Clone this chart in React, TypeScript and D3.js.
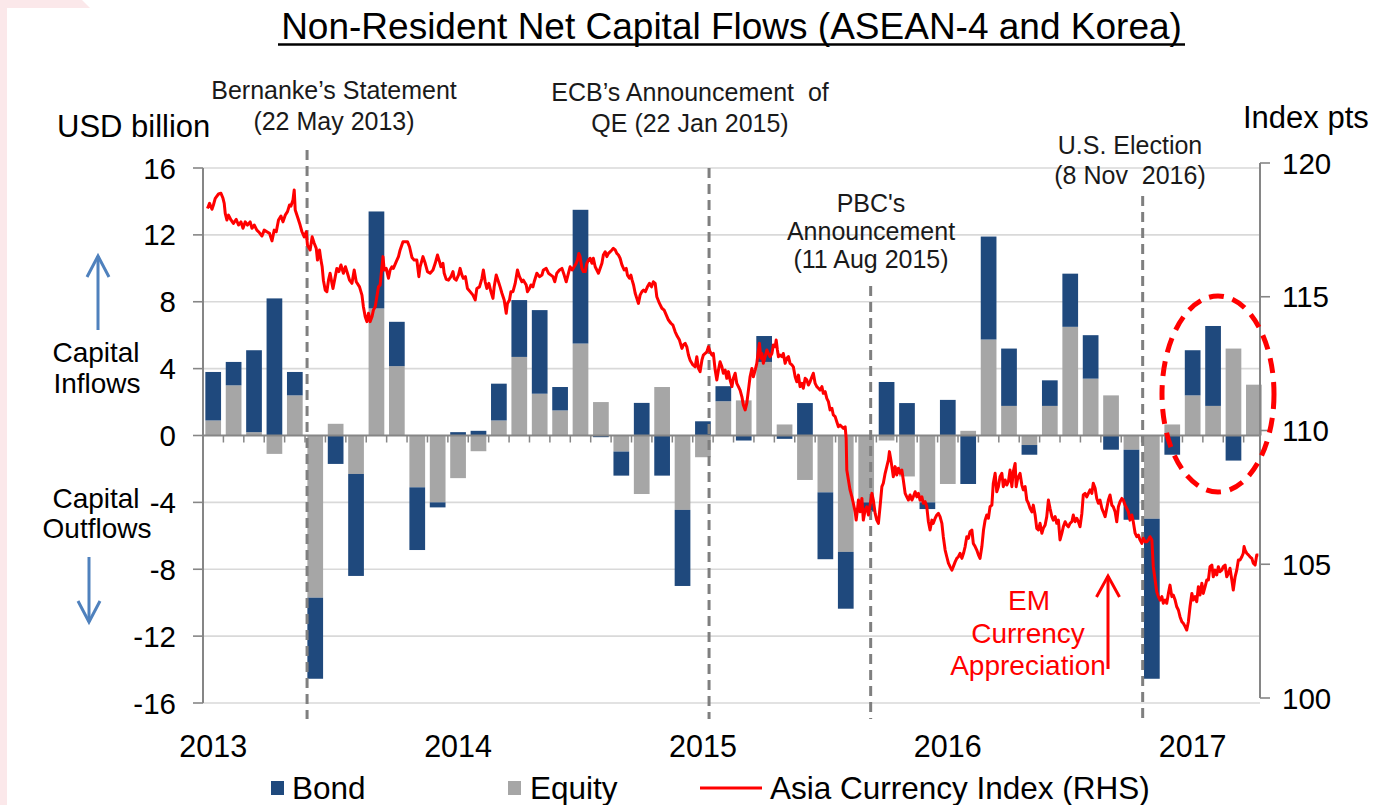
import React from 'react';
import * as d3 from 'd3';

const MONTHS = [
  'Jan-13','Feb-13','Mar-13','Apr-13','May-13','Jun-13','Jul-13','Aug-13','Sep-13','Oct-13','Nov-13','Dec-13',
  'Jan-14','Feb-14','Mar-14','Apr-14','May-14','Jun-14','Jul-14','Aug-14','Sep-14','Oct-14','Nov-14','Dec-14',
  'Jan-15','Feb-15','Mar-15','Apr-15','May-15','Jun-15','Jul-15','Aug-15','Sep-15','Oct-15','Nov-15','Dec-15',
  'Jan-16','Feb-16','Mar-16','Apr-16','May-16','Jun-16','Jul-16','Aug-16','Sep-16','Oct-16','Nov-16','Dec-16',
  'Jan-17','Feb-17','Mar-17','Apr-17'
];

const EQUITY = [0.9, 3.0, 0.2, -1.1, 2.4, -9.7, 0.7, -2.3, 7.6, 4.15, -3.1, -4.0,
  -2.55, -0.94, 0.9, 4.7, 2.5, 1.5, 5.5, 2.0, -0.96, -3.5, 2.9, -4.45,
  -1.3, 2.05, 2.1, 4.4, 0.66, -2.66, -3.4, -6.96, -4.0, -0.3, -2.45, -4.0,
  -2.9, 0.28, 5.74, 1.77, -0.57, 1.77, 6.5, 3.4, 2.4, -0.85, -4.98, 0.66,
  2.4, 1.77, 5.2, 3.04];

const BOND = [2.9, 1.4, 4.9, 8.2, 1.4, -4.85, -1.7, -6.1, 5.8, 2.65, -3.75, -0.3,
  0.2, 0.28, 2.2, 3.4, 5.0, 1.4, 8.0, -0.1, -1.44, 1.95, -2.4, -4.55,
  0.85, 0.9, -0.3, 1.55, -0.2, 1.94, -4.0, -3.4, -0.55, 3.2, 1.94, -0.4,
  2.13, -2.9, 6.16, 3.43, -0.58, 1.53, 3.18, 2.6, -0.85, -4.19, -9.57, -1.15,
  2.7, 4.78, -1.5, 0];

const YEAR_LABELS = ['2013', '2014', '2015', '2016', '2017'];
const YEAR_POS = [0, 12, 24, 36, 48];
const LEFT_TICKS = [16, 12, 8, 4, 0, -4, -8, -12, -16];
const RIGHT_TICKS = [120, 115, 110, 105, 100];

// event positions in months since Jan 2013 (as placed in the chart)
const EVENT_POS = [4.6, 24.3, 32.22, 45.55];
const EVENT_TEXT = [
  ['Bernanke\u2019s Statement', '(22 May 2013)'],
  ['ECB\u2019s Announcement  of', 'QE (22 Jan 2015)'],
  ["PBC's", 'Announcement', '(11 Aug 2015)'],
  ['U.S. Election', '(8 Nov  2016)'],
];

// Asia Currency Index (RHS): [months since Jan 2013, index pts]
const CURRENCY: [number, number][] = [
[-0.28,118.30],[-0.18,118.49],[-0.06,118.27],[0.01,118.43],[0.10,118.68],[0.26,118.84],[0.38,118.87],[0.48,118.68],[0.54,118.49],[0.59,118.12],[0.67,117.87],[0.75,118.05],[0.87,117.87],[0.99,117.74],[1.13,117.89],[1.24,117.68],[1.36,117.80],[1.46,117.56],[1.57,117.80],[1.68,117.68],[1.81,117.80],[1.90,117.56],[2.01,117.68],[2.14,117.49],[2.27,117.39],[2.39,117.27],[2.50,117.49],[2.63,117.43],[2.76,117.37],[2.88,117.09],[2.99,117.49],[3.09,117.43],[3.20,117.87],[3.32,118.02],[3.42,117.80],[3.53,118.05],[3.64,118.18],[3.74,118.43],[3.81,118.39],[3.91,118.62],[3.97,118.99],[4.02,118.24],[4.13,117.99],[4.26,117.68],[4.35,117.43],[4.46,117.24],[4.56,117.43],[4.62,116.93],[4.75,116.75],[4.85,117.24],[4.95,117.00],[5.05,116.81],[5.11,116.37],[5.21,116.75],[5.28,116.37],[5.34,116.12],[5.40,115.62],[5.49,115.25],[5.57,115.19],[5.65,115.62],[5.73,115.88],[5.82,115.50],[5.87,115.31],[5.98,115.75],[6.06,116.06],[6.16,115.94],[6.26,116.19],[6.38,115.88],[6.48,116.12],[6.58,115.88],[6.68,115.62],[6.80,115.50],[6.91,116.00],[7.01,115.56],[7.17,115.37],[7.29,115.06],[7.36,114.63],[7.45,114.25],[7.53,114.07],[7.61,114.38],[7.69,114.07],[7.78,114.25],[7.85,114.50],[7.94,114.63],[8.02,115.00],[8.10,115.37],[8.18,115.44],[8.27,116.12],[8.32,116.50],[8.38,116.00],[8.48,116.06],[8.59,115.69],[8.67,116.00],[8.76,116.12],[8.83,116.06],[8.97,116.31],[9.08,116.50],[9.16,116.75],[9.30,117.06],[9.41,117.06],[9.52,117.06],[9.62,116.87],[9.74,116.47],[9.85,116.37],[9.98,116.37],[10.08,115.75],
[10.14,116.12],[10.28,116.50],[10.39,116.25],[10.50,115.94],[10.63,115.88],[10.77,116.00],[10.88,116.25],[10.99,116.56],[11.09,116.31],[11.16,116.12],[11.26,116.25],[11.32,115.88],[11.42,115.65],[11.53,115.62],[11.65,115.75],[11.75,115.94],[11.81,115.69],[11.91,115.62],[12.02,115.81],[12.10,116.06],[12.19,115.81],[12.26,115.69],[12.36,115.75],[12.46,115.31],[12.59,115.19],[12.73,115.06],[12.84,114.88],[12.92,115.31],[13.05,115.37],[13.17,115.69],[13.24,116.00],[13.33,115.56],[13.41,115.31],[13.51,115.50],[13.61,115.19],[13.71,114.94],[13.77,115.37],[13.87,115.81],[13.98,115.56],[14.06,115.37],[14.15,115.13],[14.26,114.88],[14.36,114.38],[14.42,114.75],[14.52,114.88],[14.59,115.19],[14.69,115.19],[14.80,115.50],[14.91,116.00],[15.01,115.75],[15.13,115.56],[15.20,115.62],[15.34,115.44],[15.40,115.19],[15.50,115.31],[15.57,115.44],[15.67,115.37],[15.73,115.56],[15.86,115.88],[15.99,115.75],[16.11,115.81],[16.18,116.00],[16.32,116.06],[16.43,115.88],[16.55,115.81],[16.65,115.75],[16.74,115.56],[16.84,115.88],[16.97,116.00],[17.09,116.06],[17.20,115.81],[17.30,115.56],[17.41,115.88],[17.49,116.12],[17.59,116.00],[17.69,116.12],[17.79,116.25],[17.85,116.37],[17.92,116.62],[17.98,116.50],[18.07,116.06],[18.14,115.94],[18.23,115.94],[18.31,116.25],[18.39,116.37],[18.47,116.44],[18.56,116.25],[18.63,116.44],[18.72,116.12],[18.80,116.00],[18.88,115.88],[18.96,116.06],[19.05,116.25],[19.12,116.56],[19.21,116.68],[19.29,116.50],[19.37,116.62],[19.45,116.68],[19.54,116.75],[19.61,116.81],[19.70,116.75],[19.78,116.62],[19.86,116.56],[19.94,116.44],[20.03,116.19],[20.14,116.00],[20.24,116.06],[20.30,115.81],[20.40,115.69],[20.47,115.81],[20.53,115.62],[20.60,115.44],[20.68,115.13],[20.76,114.94],[20.84,114.75],[20.92,115.06],[21.01,115.19],[21.09,115.25],[21.18,115.19],[21.28,115.37],[21.38,115.50],[21.48,115.37],[21.57,115.56],[21.66,115.50],[21.74,115.00],[21.87,114.75],[21.99,114.57],[22.10,114.50],[22.20,114.32],[22.31,114.13],[22.43,114.01],[22.53,113.94],[22.64,113.69],[22.75,113.51],[22.85,113.38],[22.97,113.07],[23.04,113.20],[23.13,113.26],[23.21,113.13],[23.29,112.82],
[23.37,112.63],[23.51,112.45],[23.62,112.38],[23.70,112.76],[23.78,112.32],[23.86,112.20],[23.95,112.63],[24.02,112.82],[24.11,112.88],[24.19,112.94],[24.27,113.13],[24.35,112.94],[24.44,112.82],[24.51,112.88],[24.60,112.26],[24.68,111.89],[24.76,112.26],[24.84,112.57],[24.93,112.38],[25.00,112.14],[25.09,112.26],[25.17,111.95],[25.25,112.20],[25.33,111.89],[25.42,111.64],[25.49,111.95],[25.58,112.14],[25.66,111.76],[25.74,111.64],[25.82,111.51],[25.91,111.26],[25.98,110.95],[26.07,110.77],[26.15,111.02],[26.23,111.51],[26.31,112.01],[26.40,112.32],[26.47,112.01],[26.56,112.26],[26.64,112.51],[26.72,113.01],[26.77,113.26],[26.84,112.70],[26.89,112.88],[26.96,112.51],[27.05,112.76],[27.13,113.01],[27.21,112.88],[27.29,112.76],[27.38,112.88],[27.45,113.20],[27.54,113.13],[27.59,113.38],[27.65,113.01],[27.70,112.76],[27.78,112.82],[27.87,112.76],[27.94,112.88],[28.03,112.51],[28.11,112.70],[28.19,112.76],[28.27,112.51],[28.36,112.45],[28.43,112.38],[28.52,112.01],[28.60,111.82],[28.68,112.07],[28.76,111.64],[28.85,111.76],[28.92,111.58],[29.01,111.95],[29.09,111.89],[29.17,111.70],[29.25,111.82],[29.34,112.01],[29.41,112.14],[29.50,111.76],[29.58,111.64],[29.66,111.58],[29.74,111.51],[29.83,111.64],[29.90,111.39],[29.99,111.45],[30.07,111.20],[30.15,111.08],[30.23,110.77],[30.32,110.83],[30.39,110.58],[30.48,110.52],[30.56,110.33],[30.64,110.14],[30.72,110.20],[30.81,110.14],[30.88,110.08],[30.97,110.14],[31.02,109.71],[31.05,108.52],[31.13,108.15],[31.21,107.78],[31.30,107.52],[31.37,107.28],[31.46,106.96],[31.51,106.65],[31.57,107.03],[31.62,107.40],[31.70,106.96],[31.79,107.46],[31.86,106.65],[31.95,107.03],[32.03,107.15],[32.11,106.84],[32.19,107.21],[32.28,107.65],[32.35,107.40],[32.44,106.90],[32.52,106.65],[32.60,106.53],[32.68,107.15],[32.77,107.90],[32.84,108.03],[32.93,108.40],[33.01,108.65],[33.09,108.90],[33.14,109.21],[33.21,108.90],[33.26,108.65],[33.33,108.27],[33.42,108.65],[33.50,108.34],[33.58,108.59],[33.66,108.40],[33.75,108.52],[33.82,108.15],[33.91,107.65],[33.99,107.52],[34.07,107.40],[34.15,107.59],[34.24,107.40],[34.31,107.52],[34.40,107.71],[34.48,107.52],[34.56,107.65],[34.64,107.40],[34.73,107.52],[34.80,107.28],[34.89,107.34],[34.97,107.15],[35.05,106.59],[35.13,106.28],[35.22,106.65],[35.29,106.53],[35.38,106.72],[35.46,106.84],[35.54,106.90],
[35.62,106.78],[35.71,106.53],[35.78,106.03],[35.87,105.53],[35.95,105.28],[36.03,105.04],[36.11,104.91],[36.20,104.78],[36.27,104.91],[36.36,105.09],[36.44,105.22],[36.52,105.28],[36.60,105.41],[36.69,105.22],[36.77,105.41],[36.85,105.66],[36.93,106.03],[37.01,105.97],[37.09,106.22],[37.18,106.28],[37.25,105.78],[37.34,105.66],[37.42,105.53],[37.50,105.35],[37.58,105.22],[37.67,105.66],[37.75,106.28],[37.83,106.65],[37.91,106.84],[37.99,106.72],[38.07,107.15],[38.16,107.21],[38.23,108.03],[38.32,108.40],[38.40,107.71],[38.48,107.90],[38.56,108.27],[38.65,108.40],[38.72,107.90],[38.81,108.15],[38.89,107.96],[38.97,108.09],[39.05,108.52],[39.14,107.90],[39.21,108.46],[39.30,108.77],[39.35,107.90],[39.41,108.15],[39.46,108.27],[39.54,108.40],[39.63,107.96],[39.70,107.78],[39.79,107.90],[39.87,107.40],[39.95,107.28],[40.03,107.09],[40.12,106.96],[40.19,107.21],[40.28,106.84],[40.36,106.34],[40.44,106.28],[40.52,106.53],[40.61,106.16],[40.68,106.34],[40.77,106.47],[40.85,106.78],[40.93,107.40],[41.01,107.09],[41.10,106.78],[41.17,106.65],[41.26,106.78],[41.34,106.53],[41.42,106.65],[41.50,105.91],[41.59,106.16],[41.66,106.40],[41.75,106.59],[41.83,106.47],[41.91,106.40],[41.99,106.53],[42.08,106.59],[42.15,106.84],[42.24,106.59],[42.32,106.72],[42.40,106.59],[42.48,106.40],[42.57,106.90],[42.64,107.59],[42.73,107.65],[42.81,107.52],[42.89,107.65],[42.97,107.78],[43.06,107.65],[43.13,108.03],[43.22,107.84],[43.30,107.46],[43.38,107.28],[43.46,107.40],[43.55,107.09],[43.62,106.96],[43.71,106.78],[43.79,107.09],[43.87,107.40],[43.95,107.59],[44.04,107.21],[44.11,107.15],[44.20,106.96],[44.28,106.59],[44.36,107.15],[44.44,107.34],[44.53,107.46],[44.60,107.40],[44.69,107.21],[44.77,107.09],[44.85,106.96],[44.93,106.65],[45.02,106.84],[45.09,106.59],[45.18,106.16],[45.26,106.03],[45.34,106.09],[45.42,105.91],[45.51,105.78],[45.58,105.97],[45.67,105.84],[45.75,105.84],[45.83,105.91],[45.91,106.03],[46.00,105.91],[46.07,104.91],[46.16,104.41],[46.24,103.97],[46.32,103.79],[46.40,103.66],[46.49,103.79],[46.56,103.54],[46.65,103.66],[46.73,103.54],[46.81,103.91],[46.89,104.22],[46.98,103.79],[47.05,103.85],[47.14,103.66],[47.22,103.41],[47.30,103.29],[47.38,103.04],[47.47,102.85],[47.54,102.79],[47.63,102.67],[47.71,102.54],[47.79,102.85],[47.87,103.41],[47.96,103.91],[48.03,103.66],[48.12,103.79],[48.20,103.60],[48.28,104.16],[48.36,103.85],[48.45,104.29],[48.52,103.91],[48.61,104.16],[48.69,104.41],[48.77,104.41],[48.85,104.91],[48.94,104.97],[49.01,104.53],[49.10,104.78],[49.18,104.60],[49.26,104.91],[49.34,104.72],[49.43,104.78],[49.50,104.91],[49.59,104.97],[49.67,104.53],[49.75,104.66],[49.83,104.85],[49.92,104.41],[49.99,104.04],[50.08,104.53],[50.16,104.78],[50.24,105.16],[50.32,105.16],[50.41,105.28],[50.48,105.41],[50.52,105.66],[50.57,105.53],[50.65,105.41],[50.73,105.35],[50.81,105.28],[50.90,105.22],[50.97,105.04],[51.06,104.97],[51.14,105.35],[51.22,105.35]
];

const FONT = "'Liberation Sans', Arial, Helvetica, sans-serif";
const C_BOND = '#1F497D';
const C_EQ = '#A6A6A6';
const C_RED = '#FF0000';
const C_GRID = '#D9D9D9';
const C_AXIS = '#868686';
const C_DASH = '#7F7F7F';
const C_ARROW = '#4F81BD';

// layout
const PL = 203, PR = 1260, PT = 168, PB = 703;
const EVENT_TOP = [150, 168, 286, 196];
const EVENT_BOTTOM = 719;
const EVENT_TEXT_X = [334, 690, 871, 1130];
const EVENT_BASE = [[99, 130], [101, 132], [212, 240, 268], [154, 184]];

export default function App() {
  const x = d3.scaleLinear().domain([-0.5, 51.3]).range([PL, PR]);
  const yL = d3.scaleLinear().domain([-16, 16]).range([PB, PT]);
  const yR = d3.scaleLinear().domain([100, 120]).range([698, 163]);
  const step = x(1) - x(0);
  const bw = step * 0.77;

  const rows = MONTHS.map((m, i) => ({ i, equity: EQUITY[i], bond: BOND[i] }));
  const stacked = d3.stack<any>().keys(['equity', 'bond']).offset(d3.stackOffsetDiverging)(rows);
  const colors: Record<string, string> = { equity: C_EQ, bond: C_BOND };

  const line = d3.line<[number, number]>().x(d => x(d[0])).y(d => yR(d[1]));

  const y0 = yL(0);

  return (
    <svg width={1376} height={805} style={{ position: 'absolute', left: 0, top: 0, display: 'block' }}
      fontFamily={FONT}>
      <rect x={0} y={0} width={1376} height={805} fill="#fff" />
      {/* slide decoration */}
      <rect x={0} y={0} width={7} height={805} fill="#FBE8EA" />
      <polygon points="0,0 82,0 90,8 0,8" fill="#FBE8EA" />

      {/* title */}
      <text x={731.5} y={39} fontSize={37} textAnchor="middle" fill="#000">
        Non-Resident Net Capital Flows (ASEAN-4 and Korea)
      </text>
      <line x1={278} x2={1185} y1={44.5} y2={44.5} stroke="#000" strokeWidth={2.5} />

      {/* gridlines */}
      {LEFT_TICKS.filter(t => t !== 0).map(t => (
        <line key={'g' + t} x1={PL} x2={PR} y1={yL(t)} y2={yL(t)} stroke={C_GRID} strokeWidth={1.6} />
      ))}

      {/* bars */}
      {stacked.map(s => (
        <g key={s.key} fill={colors[s.key]}>
          {s.map((d, i) => {
            const top = yL(Math.max(d[0], d[1]));
            const bot = yL(Math.min(d[0], d[1]));
            return <rect key={i} x={x(i) - bw / 2} y={top} width={bw} height={Math.max(0, bot - top)} />;
          })}
        </g>
      ))}

      {/* zero line & minor ticks */}
      <line x1={PL} x2={PR} y1={y0} y2={y0} stroke={C_AXIS} strokeWidth={2} />
      {MONTHS.slice(0, MONTHS.length - 1).map((m, i) => (
        <line key={'mt' + i} x1={x(i + 0.5)} x2={x(i + 0.5)} y1={y0} y2={y0 + 7} stroke={C_AXIS} strokeWidth={1.5} />
      ))}

      {/* left axis */}
      <line x1={PL} x2={PL} y1={PT} y2={PB} stroke={C_AXIS} strokeWidth={2} />
      {LEFT_TICKS.map(t => (
        <g key={'lt' + t}>
          <line x1={PL - 10} x2={PL} y1={yL(t)} y2={yL(t)} stroke={C_AXIS} strokeWidth={1.6} />
          <text x={176} y={yL(t) + 10.5} fontSize={29.5} textAnchor="end" fill="#000">{t}</text>
        </g>
      ))}

      {/* right axis */}
      <line x1={PR} x2={PR} y1={yR(120)} y2={yR(100)} stroke={C_AXIS} strokeWidth={2} />
      {RIGHT_TICKS.map(t => (
        <g key={'rt' + t}>
          <line x1={PR} x2={PR + 10} y1={yR(t)} y2={yR(t)} stroke={C_AXIS} strokeWidth={1.6} />
          <text x={1282} y={yR(t) + 10.5} fontSize={29.5} textAnchor="start" fill="#000">{t}</text>
        </g>
      ))}

      {/* year labels */}
      {YEAR_LABELS.map((lab, i) => (
        <text key={lab} x={x(YEAR_POS[i])} y={757} fontSize={30.5} textAnchor="middle" fill="#000">{lab}</text>
      ))}

      {/* axis titles */}
      <text x={57} y={137} fontSize={31} fill="#000">USD billion</text>
      <text x={1243} y={128} fontSize={31} fill="#000">Index pts</text>

      {/* event lines */}
      {EVENT_POS.map((p, i) => (
        <g key={'ev' + i}>
          <line x1={x(p)} x2={x(p)} y1={EVENT_TOP[i]} y2={EVENT_BOTTOM} stroke={C_DASH}
            strokeWidth={3} strokeDasharray="10 6" />
          {EVENT_TEXT[i].map((t, j) => (
            <text key={j} x={EVENT_TEXT_X[i]} y={EVENT_BASE[i][j]} fontSize={25} textAnchor="middle"
              fill="#1a1a1a" style={{ whiteSpace: 'pre' }}>{t}</text>
          ))}
        </g>
      ))}

      {/* currency index */}
      <path d={line(CURRENCY) || ''} fill="none" stroke={C_RED} strokeWidth={3} strokeLinejoin="round" />

      {/* highlight ellipse */}
      <ellipse cx={1218} cy={394} rx={56} ry={98} fill="none" stroke={C_RED} strokeWidth={5}
        strokeDasharray="15 9" />

      {/* EM annotation */}
      <g fill={C_RED} fontSize={28} textAnchor="middle">
        <text x={1029} y={610}>EM</text>
        <text x={1028} y={643}>Currency</text>
        <text x={1028} y={675}>Appreciation</text>
      </g>
      <g stroke={C_RED} strokeWidth={3} fill="none">
        <line x1={1108} x2={1108} y1={669} y2={576} />
        <polyline points="1096.5,597 1108,576 1119.5,597" />
      </g>

      {/* capital flow annotation */}
      <g fontSize={28} textAnchor="middle" fill="#000">
        <text x={96} y={362}>Capital</text>
        <text x={97} y={393}>Inflows</text>
        <text x={96} y={508}>Capital</text>
        <text x={97} y={538}>Outflows</text>
      </g>
      <g stroke={C_ARROW} strokeWidth={3} fill="none">
        <line x1={98} x2={98} y1={330} y2={256} />
        <polyline points="87,277 98,256 109,277" />
        <line x1={89} x2={89} y1={557} y2={622} />
        <polyline points="78,601 89,622 100,601" />
      </g>

      {/* legend */}
      <rect x={271} y={781} width={13} height={14} fill={C_BOND} />
      <text x={292} y={799} fontSize={31.5} fill="#000">Bond</text>
      <rect x={508} y={781} width={13} height={14} fill={C_EQ} />
      <text x={530} y={799} fontSize={31.5} fill="#000">Equity</text>
      <line x1={700} x2={762} y1={788} y2={788} stroke={C_RED} strokeWidth={3} />
      <text x={770} y={799} fontSize={31.5} fill="#000">Asia Currency Index (RHS)</text>
    </svg>
  );
}
